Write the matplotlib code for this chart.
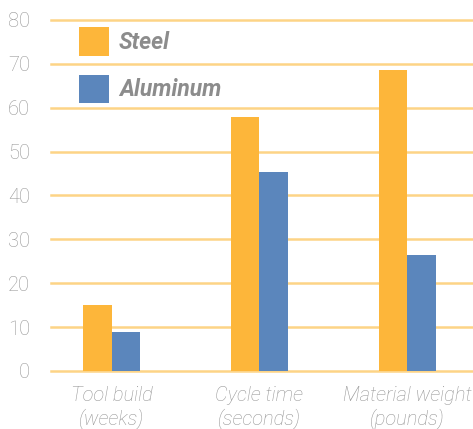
import numpy as np
import matplotlib
matplotlib.use('Agg')
import matplotlib.pyplot as plt

categories = ['Tool build\n(weeks)', 'Cycle time\n(seconds)', 'Material weight\n(pounds)']
steel = [15, 58, 68.6]
aluminum = [9, 45.4, 26.5]
yticks = [0, 10, 20, 30, 40, 50, 60, 70, 80]

STEEL_COLOR = '#FDB63A'
ALUM_COLOR = '#5B86BC'
GRID_COLOR = '#FDD486'
TEXT_COLOR = '#969696'

plt.rcParams['font.family'] = ['Roboto', 'Liberation Sans', 'DejaVu Sans']

fig = plt.figure(figsize=(4.73, 4.29), dpi=100)
ax = fig.add_axes([0.1078, 0.1352, 0.8922, 0.8182])

x = np.arange(len(categories))
w = 0.193
ax.bar(x - w / 2, steel, w, color=STEEL_COLOR, label='Steel', zorder=3)
ax.bar(x + w / 2, aluminum, w, color=ALUM_COLOR, label='Aluminum', zorder=3)

ax.set_ylim(0, 80)
ax.set_xlim(-0.409, 2.443)
ax.set_yticks(yticks)
ax.set_xticks(x)
ax.set_xticklabels(categories, style='italic', weight='light', fontsize=14.5,
                   color=TEXT_COLOR, linespacing=1.18)
for lbl in ax.get_yticklabels():
    lbl.set_fontweight('light')
ax.tick_params(axis='y', length=0, pad=15, labelsize=14.5, labelcolor=TEXT_COLOR)
ax.tick_params(axis='x', length=0, pad=11)

for t in yticks:
    ax.axhline(t, color=GRID_COLOR, linewidth=1.8, zorder=1, clip_on=False)

for s in ax.spines.values():
    s.set_visible(False)

leg = ax.legend(loc='upper left', bbox_to_anchor=(0.066, 0.98), frameon=False,
                handlelength=1.3, handleheight=1.55, handletextpad=0.45,
                labelspacing=0.82, borderaxespad=0, borderpad=0,
                prop={'size': 16.5, 'weight': 'bold', 'style': 'italic'})
for txt in leg.get_texts():
    txt.set_color('#8C8C8C')

fig.savefig('out.png', dpi=100)
